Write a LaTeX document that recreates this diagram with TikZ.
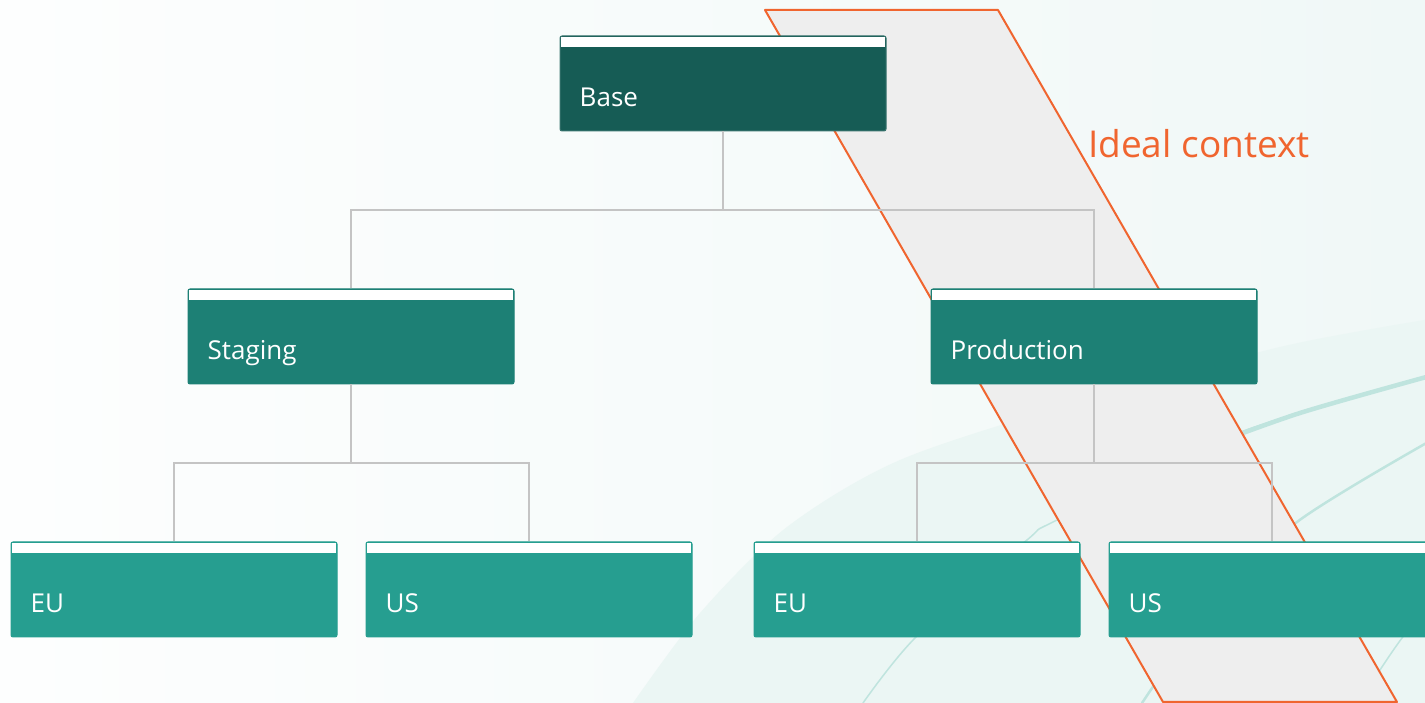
\documentclass[tikz,border=0pt]{standalone}
\usepackage{fontspec}
\setmainfont{Open Sans}
\usetikzlibrary{calc,shadings}

\definecolor{basecol}{HTML}{165C55}
\definecolor{midcol}{HTML}{1D8075}
\definecolor{leafcol}{HTML}{269E90}
\definecolor{linkcol}{HTML}{C4C4C4}
\definecolor{accent}{HTML}{F0652F}
\definecolor{bandfill}{HTML}{EEEEEE}
\definecolor{swirl}{HTML}{BFE4DE}
\definecolor{haze}{HTML}{EBF6F4}
\definecolor{bgleft}{HTML}{FDFEFE}
\definecolor{bgright}{HTML}{F0F8F7}

\tikzset{
  cardbox/.style={rectangle, rounded corners=2pt, minimum width=326pt,
    minimum height=95pt, inner sep=0pt, line width=1pt},
  cardtext/.style={anchor=base west, text=white, inner sep=0pt,
    font=\fontsize{26}{30}\selectfont},
  link/.style={draw=linkcol, line width=2pt},
  swirlline/.style={draw=swirl, line cap=round},
}

% white strip along the top edge of a card
\newcommand{\cardstrip}[1]{%
  \fill[white] ([xshift=1.8pt,yshift=-1.8pt]#1.north west)
    rectangle ([xshift=-1.8pt,yshift=-12pt]#1.north east);}

\begin{document}
\begin{tikzpicture}[x=1pt,y=1pt]
\useasboundingbox (0,0) rectangle (1425,703);
\clip (0,0) rectangle (1425,703);

% soft background
\shade[left color=bgleft, right color=bgright] (0,0) rectangle (1425,703);
\fill[haze] plot[smooth] coordinates {(633,0) (700,90) (787,176) (900,243)
  (1074,300) (1280,356) (1425,383)} -- (1425,0) -- cycle;

% decorative swirls
\draw[swirlline, line width=1.5pt] plot[smooth] coordinates {(1425,325) (1241,271)
  (1057,183) (1027,163) (916,66) (863,0)};
\draw[swirlline, line width=4.5pt] plot[smooth] coordinates {(1430,327) (1300,290)
  (1200,254)};
\draw[swirlline, line width=3pt] plot[smooth] coordinates {(1210,258) (1120,218)
  (1060,185)};
\draw[swirlline, line width=2.5pt] plot[smooth] coordinates {(1430,262) (1297,181)
  (1210,95) (1142,0)};
\draw[swirlline, line width=1.5pt] plot[smooth] coordinates {(1432,103) (1402,65)
  (1380,33) (1360,0)};

% highlighted band
\filldraw[fill=bandfill, draw=accent, line width=2pt, line join=round]
  (765,693) -- (998,693) -- (1397,1) -- (1163,1) -- cycle;

% cards
\node[cardbox, fill=basecol, draw=basecol!85!white] (base) at (723,619.5) {};
\node[cardbox, fill=midcol, draw=midcol] (staging) at (351,366.5) {};
\node[cardbox, fill=midcol, draw=midcol] (production) at (1094,366.5) {};
\node[cardbox, fill=leafcol, draw=leafcol] (seu) at (174,113.5) {};
\node[cardbox, fill=leafcol, draw=leafcol] (sus) at (529,113.5) {};
\node[cardbox, fill=leafcol, draw=leafcol] (peu) at (917,113.5) {};
\node[cardbox, fill=leafcol, draw=leafcol] (pus) at (1272,113.5) {};
\foreach \c in {base,staging,production,seu,sus,peu,pus} {\cardstrip{\c}}

% tree links
\coordinate (j0) at (723,493);
\coordinate (j1) at (351,240);
\coordinate (j2) at (1094,240);
\draw[link] (base.south) -- (j0);
\draw[link] (staging.north) |- (j0) -| (production.north);
\draw[link] (staging.south) -- (j1);
\draw[link] (seu.north) |- (j1) -| (sus.north);
\draw[link] (production.south) -- (j2);
\draw[link] (peu.north) |- (j2) -| (pus.north);

% card labels
\node[cardtext] (tbase) at ($(base.south west)+(20,25)$) {Base};
\node[cardtext] (tstaging) at ($(staging.south west)+(20,25)$) {Staging};
\node[cardtext] (tproduction) at ($(production.south west)+(20,25)$) {Production};
\node[cardtext] (tseu) at ($(seu.south west)+(20,25)$) {EU};
\node[cardtext] (tsus) at ($(sus.south west)+(20,25)$) {US};
\node[cardtext] (tpeu) at ($(peu.south west)+(20,25)$) {EU};
\node[cardtext] (tpus) at ($(pus.south west)+(20,25)$) {US};

% band caption
\node[anchor=base west, inner sep=0pt, text=accent,
  font=\fontsize{37}{42}\selectfont] (ideal) at (1088,545) {Ideal context};
\end{tikzpicture}
\end{document}
